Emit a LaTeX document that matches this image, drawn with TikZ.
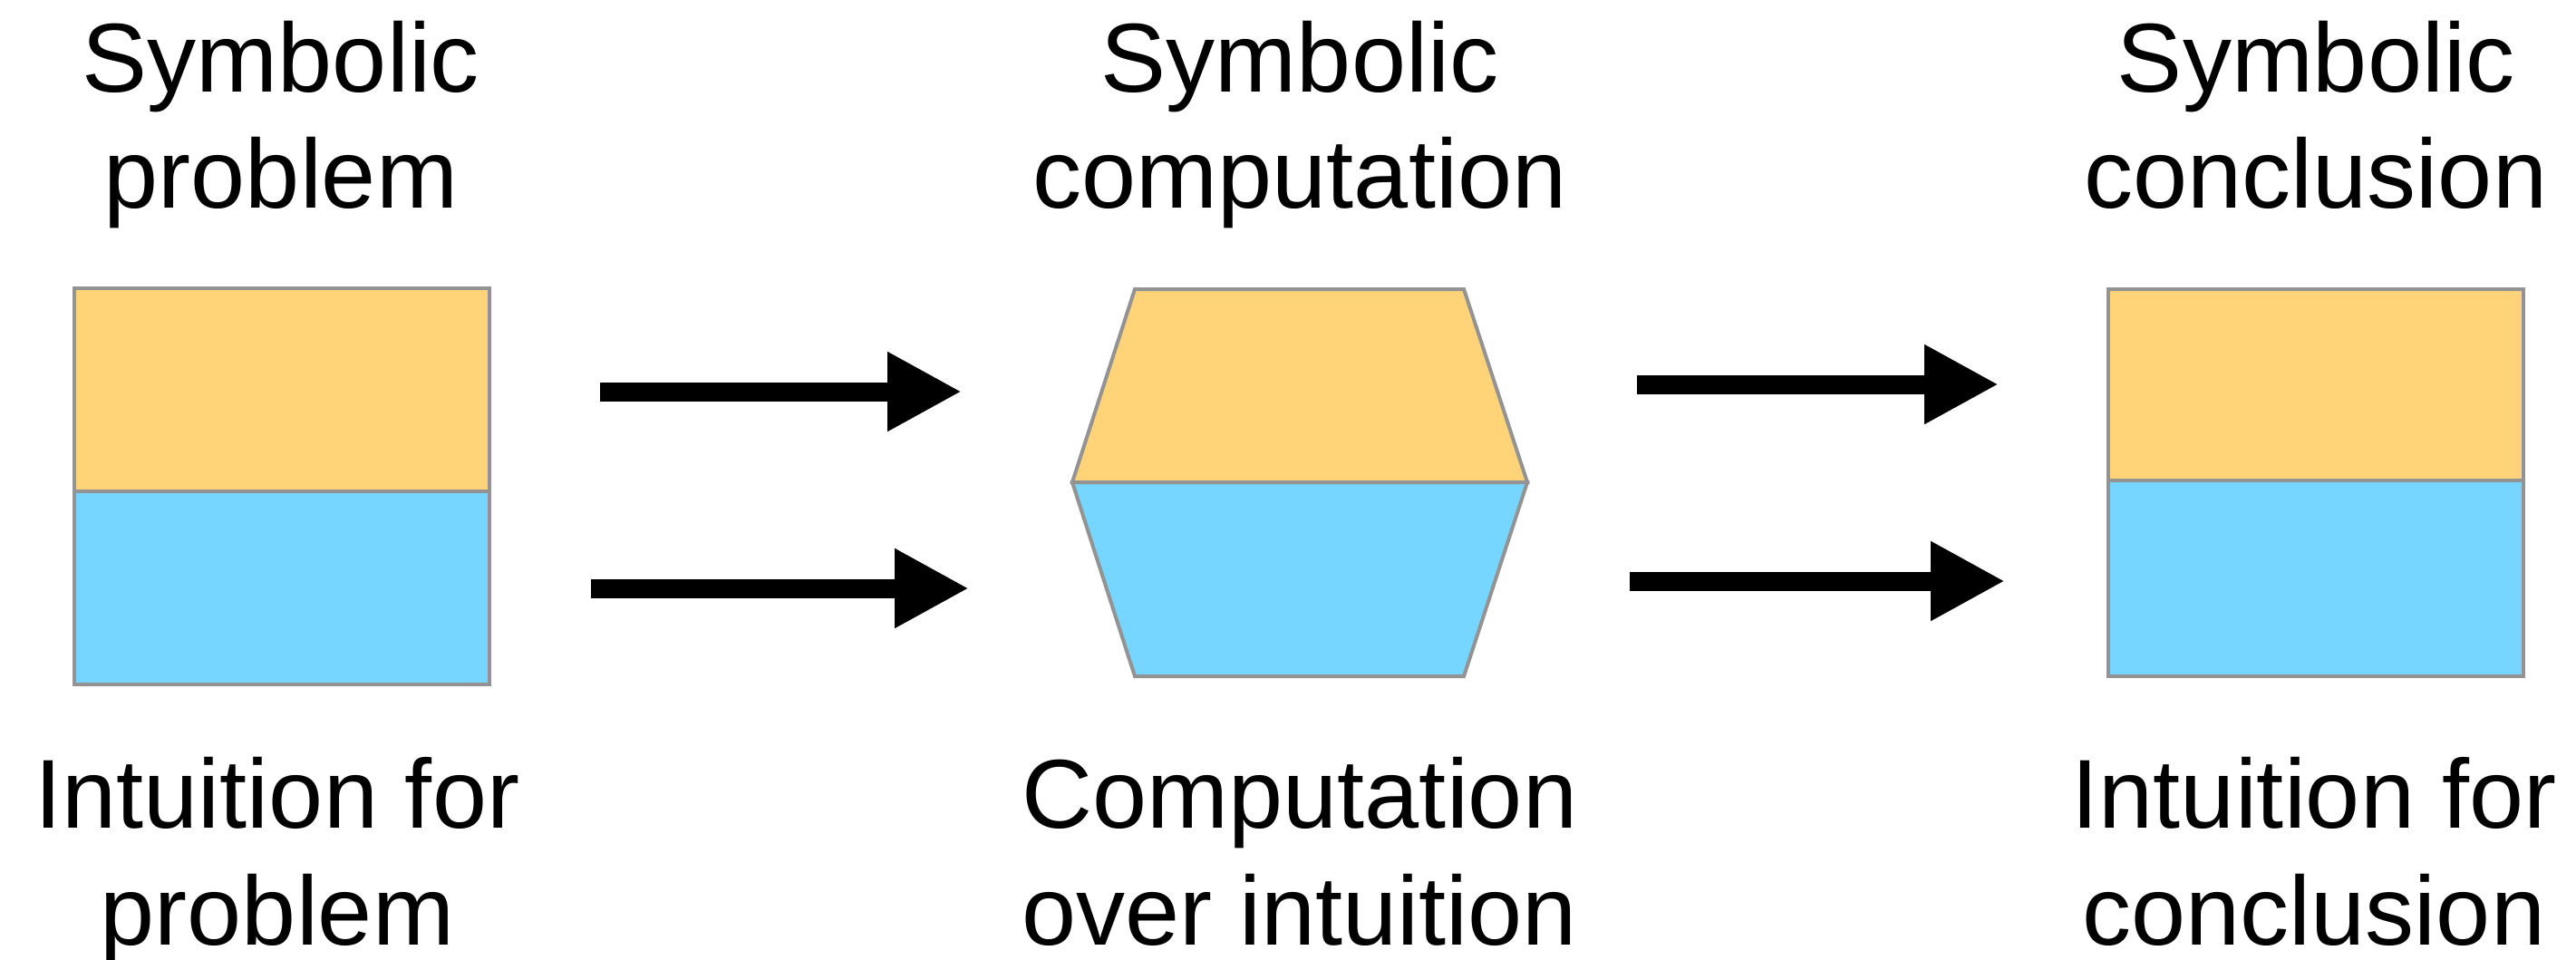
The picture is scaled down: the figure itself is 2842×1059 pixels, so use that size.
\documentclass[tikz,border=0pt]{standalone}
\usepackage{fontspec}
\setmainfont{Liberation Sans}
\usetikzlibrary{arrows.meta}
\definecolor{symb}{HTML}{FFD479}
\definecolor{intu}{HTML}{76D6FF}
\definecolor{edge}{HTML}{939393}
\begin{document}
\begin{tikzpicture}[x=1pt,y=-1pt,
  part/.style={draw=edge,line width=4pt,line join=miter},
  lbl/.style={anchor=base,inner sep=0pt,font=\fontsize{108}{130}\selectfont},
  bigarrow/.style={line width=21pt,-{Triangle[length=82pt,width=82pt]}}]
\useasboundingbox[fill=white] (0,0) rectangle (2842,1059);
% left box
\filldraw[part,fill=symb] (82,318) rectangle (540,542);
\filldraw[part,fill=intu] (82,542) rectangle (540,755);
% middle hexagon
\filldraw[part,fill=symb] (1183,532) -- (1252,319) -- (1615,319) -- (1685,532) -- cycle;
\filldraw[part,fill=intu] (1183,532) -- (1252,746) -- (1615,746) -- (1685,532) -- cycle;
% right box
\filldraw[part,fill=symb] (2326,319) rectangle (2784,530);
\filldraw[part,fill=intu] (2326,530) rectangle (2784,746);
% arrows
\coordinate (a1s) at (662,432); \coordinate (a1e) at (1061,432);
\coordinate (a2s) at (652,649); \coordinate (a2e) at (1069,649);
\coordinate (a3s) at (1806,424); \coordinate (a3e) at (2205,424);
\coordinate (a4s) at (1798,641); \coordinate (a4e) at (2212,641);
\draw[bigarrow] (a1s) -- (a1e);
\draw[bigarrow] (a2s) -- (a2e);
\draw[bigarrow] (a3s) -- (a3e);
\draw[bigarrow] (a4s) -- (a4e);
% labels
\node[lbl] (t1a) at (310,102) {Symbolic};
\node[lbl] (t1b) at (310,230) {problem};
\node[lbl] (t2a) at (1434,102) {Symbolic};
\node[lbl] (t2b) at (1434,230) {computation};
\node[lbl] (t3a) at (2555,102) {Symbolic};
\node[lbl] (t3b) at (2555,230) {conclusion};
\node[lbl] (b1a) at (306,913) {Intuition for};
\node[lbl] (b1b) at (306,1042) {problem};
\node[lbl] (b2a) at (1434,913) {Computation};
\node[lbl] (b2b) at (1434,1042) {over intuition};
\node[lbl] (b3a) at (2553,913) {Intuition for};
\node[lbl] (b3b) at (2553,1042) {conclusion};
\end{tikzpicture}
\end{document}
